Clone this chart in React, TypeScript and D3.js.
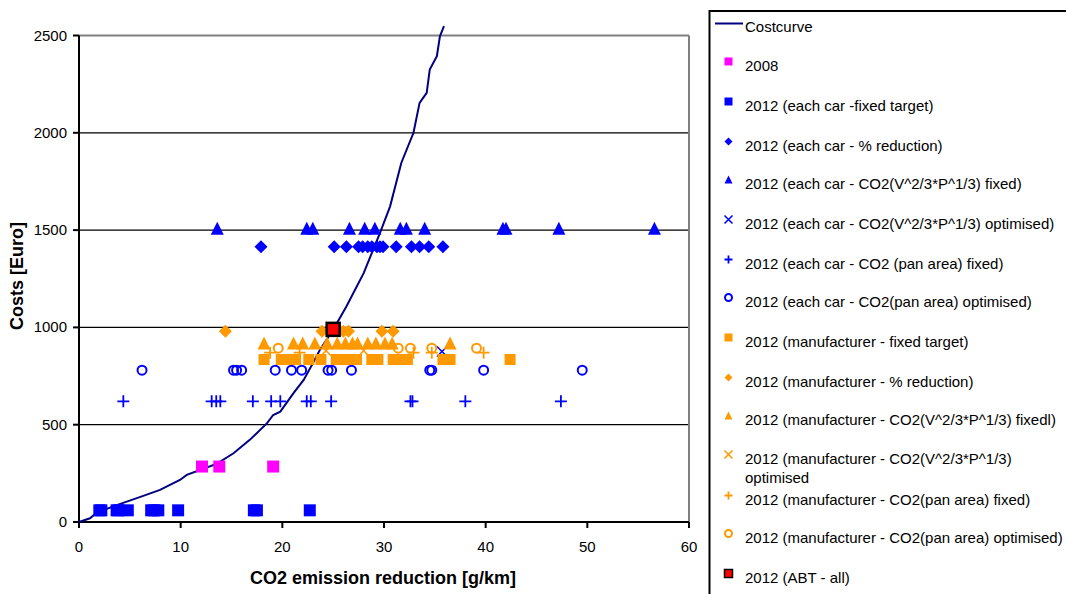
import * as d3 from "d3";

// cost curve (g/km reduction vs. Euro)
const costX = [0, 1.08, 1.74, 3.71, 6.32, 7.97, 9.93, 10.6, 13.5, 15.2, 16.8, 18.5, 19.1, 19.8, 21.1, 22.1, 23.0, 23.7, 25.0, 26.3, 28.0, 28.8, 29.6, 30.6, 31.7, 32.9, 33.5, 34.2, 34.5, 35.2, 35.5, 35.9];
const costY = [0, 19, 48, 87, 134, 165, 216, 242, 298, 353, 422, 508, 550, 567, 662, 730, 816, 885, 988, 1107, 1279, 1382, 1485, 1622, 1845, 2000, 2154, 2205, 2325, 2394, 2496, 2548];

type P = [number, number];

const pts2008: P[] = [[12.1, 285], [13.8, 285], [19.1, 285]];
const ptsCarFixed: P[] = [[2.0, 60], [2.2, 60], [3.7, 60], [3.9, 60], [4.8, 60], [7.1, 60], [7.4, 60], [7.8, 60], [9.75, 60], [17.2, 60], [17.5, 60], [22.7, 60]];
const ptsCarPct: P[] = [[17.9, 1415], [25.1, 1415], [26.3, 1415], [27.5, 1415], [27.9, 1415], [28.4, 1415], [28.8, 1415], [29.3, 1415], [29.6, 1415], [29.9, 1415], [31.2, 1415], [32.7, 1415], [33.5, 1415], [34.4, 1415], [35.8, 1415]];
const ptsCarVFixed: P[] = [[13.6, 1510], [22.4, 1510], [23.0, 1510], [26.6, 1510], [28.1, 1510], [29.1, 1510], [31.6, 1510], [32.2, 1510], [34.0, 1510], [41.7, 1510], [42.0, 1510], [47.2, 1510], [56.6, 1510]];
const ptsCarVOpt: P[] = [[35.7, 876]];
const ptsCarPanFixed: P[] = [[4.36, 620], [13.05, 620], [13.5, 620], [13.9, 620], [17.1, 620], [18.9, 620], [19.8, 620], [22.4, 620], [22.8, 620], [24.8, 620], [32.6, 620], [32.8, 620], [38.0, 620], [47.4, 620]];
const ptsCarPanOpt: P[] = [[6.2, 780], [15.2, 780], [15.5, 780], [16.0, 780], [19.3, 780], [20.9, 780], [21.9, 780], [24.5, 780], [24.85, 780], [26.8, 780], [34.5, 780], [34.7, 780], [39.8, 780], [49.5, 780]];
const ptsManFixed: P[] = [[18.2, 835], [19.9, 835], [20.8, 835], [21.3, 835], [22.6, 835], [23.8, 835], [25.3, 835], [25.9, 835], [26.6, 835], [27.3, 835], [28.8, 835], [29.4, 835], [30.9, 835], [31.3, 835], [32.3, 835], [35.8, 835], [36.5, 835], [42.4, 835]];
const ptsManPct: P[] = [[14.4, 980], [23.9, 980], [26.0, 980], [26.5, 980], [29.8, 980], [30.9, 980]];
const ptsManVFixed: P[] = [[18.2, 920], [21.1, 920], [22.0, 920], [23.2, 920], [24.4, 920], [25.4, 920], [26.2, 920], [26.9, 920], [27.4, 920], [28.4, 920], [29.2, 920], [30.1, 920], [30.8, 920], [36.5, 920]];
const ptsManVOpt: P[] = [[24.3, 880], [28.0, 880]];
const ptsManPanFixed: P[] = [[18.8, 870], [21.7, 870], [32.9, 870], [34.7, 870], [39.8, 870]];
const ptsManPanOpt: P[] = [[19.6, 893], [31.4, 893], [32.6, 893], [34.7, 893], [39.1, 893]];
const ptsABT: P[] = [[25.0, 990]];

const xTicks = [0, 10, 20, 30, 40, 50, 60];
const yTicks = [0, 500, 1000, 1500, 2000, 2500];

type Kind = "square" | "diamond" | "triangle" | "x" | "plus" | "circle" | "abt";

const series: { label: string[]; kind: Kind; color: string; pts: P[]; size: number }[] = [
  { label: ["2008"], kind: "square", color: "#FF00FF", pts: pts2008, size: 12 },
  { label: ["2012 (each car -fixed target)"], kind: "square", color: "#0000FF", pts: ptsCarFixed, size: 12 },
  { label: ["2012 (each car - % reduction)"], kind: "diamond", color: "#0000FF", pts: ptsCarPct, size: 13 },
  { label: ["2012 (each car - CO2(V^2/3*P^1/3) fixed)"], kind: "triangle", color: "#0000FF", pts: ptsCarVFixed, size: 13 },
  { label: ["2012 (each car - CO2(V^2/3*P^1/3) optimised)"], kind: "x", color: "#0000FF", pts: ptsCarVOpt, size: 10 },
  { label: ["2012 (each car - CO2 (pan area) fixed)"], kind: "plus", color: "#0000FF", pts: ptsCarPanFixed, size: 12 },
  { label: ["2012 (each car - CO2(pan area) optimised)"], kind: "circle", color: "#0000FF", pts: ptsCarPanOpt, size: 9 },
  { label: ["2012 (manufacturer - fixed target)"], kind: "square", color: "#FF9900", pts: ptsManFixed, size: 11 },
  { label: ["2012 (manufacturer - % reduction)"], kind: "diamond", color: "#FF9900", pts: ptsManPct, size: 13 },
  { label: ["2012 (manufacturer - CO2(V^2/3*P^1/3) fixedl)"], kind: "triangle", color: "#FF9900", pts: ptsManVFixed, size: 13 },
  { label: ["2012 (manufacturer - CO2(V^2/3*P^1/3)", "optimised"], kind: "x", color: "#FF9900", pts: ptsManVOpt, size: 10 },
  { label: ["2012 (manufacturer - CO2(pan area) fixed)"], kind: "plus", color: "#FF9900", pts: ptsManPanFixed, size: 12 },
  { label: ["2012 (manufacturer - CO2(pan area) optimised)"], kind: "circle", color: "#FF9900", pts: ptsManPanOpt, size: 9 },
  { label: ["2012 (ABT - all)"], kind: "abt", color: "#FF0000", pts: ptsABT, size: 13 },
];

const legendRows = [65, 105, 145, 183, 223, 263, 301, 341, 381, 419, 458, 499, 537, 577];

function Marker({ kind, cx, cy, s, color }: { kind: Kind; cx: number; cy: number; s: number; color: string }) {
  const h = s / 2;
  switch (kind) {
    case "square":
      return <rect x={cx - h} y={cy - h} width={s} height={s} fill={color} />;
    case "abt":
      return <rect x={cx - h} y={cy - h} width={s} height={s} fill={color} stroke="#000" strokeWidth={s > 8 ? 2.5 : 1.5} />;
    case "diamond":
      return <path d={`M${cx},${cy - h}L${cx + h},${cy}L${cx},${cy + h}L${cx - h},${cy}Z`} fill={color} />;
    case "triangle":
      return <path d={`M${cx},${cy - h}L${cx + h},${cy + h}L${cx - h},${cy + h}Z`} fill={color} />;
    case "x":
      return <path d={`M${cx - h},${cy - h}L${cx + h},${cy + h}M${cx + h},${cy - h}L${cx - h},${cy + h}`} stroke={color} strokeWidth={1.6} fill="none" />;
    case "plus":
      return <path d={`M${cx - h},${cy}L${cx + h},${cy}M${cx},${cy - h}L${cx},${cy + h}`} stroke={color} strokeWidth={1.8} fill="none" />;
    case "circle":
      return <circle cx={cx} cy={cy} r={h} stroke={color} strokeWidth={2} fill="none" />;
  }
}

export default function App() {
  const x = d3.scaleLinear().domain([0, 60]).range([79, 689]);
  const y = d3.scaleLinear().domain([0, 2500]).range([522, 35.5]);
  const line = d3.line<number>().x((_, i) => x(costX[i])).y((d) => y(d));
  const font = "'Liberation Sans', Arial, sans-serif";

  return (
    <svg width={1066} height={594} style={{ position: "absolute", left: 0, top: 0, background: "#fff" }} fontFamily={font}>
      {/* grid */}
      {yTicks.filter((t) => t > 0 && t < 2500).map((t) => (
        <line key={t} x1={x(0)} x2={x(60)} y1={y(t)} y2={y(t)} stroke="#000" strokeWidth={1.2} />
      ))}
      {/* frame */}
      <line x1={x(0)} x2={x(60)} y1={y(2500)} y2={y(2500)} stroke="#808080" strokeWidth={2} />
      <line x1={x(60)} x2={x(60)} y1={y(2500)} y2={y(0)} stroke="#808080" strokeWidth={2} />
      <line x1={x(0)} x2={x(60)} y1={y(0)} y2={y(0)} stroke="#000" strokeWidth={2} />
      <line x1={x(0)} x2={x(0)} y1={y(2500)} y2={y(0)} stroke="#000" strokeWidth={2} />
      {yTicks.map((t) => (
        <g key={t}>
          <line x1={x(0) - 6} x2={x(0)} y1={y(t)} y2={y(t)} stroke="#000" strokeWidth={2} />
          <text x={67} y={y(t) + 5} fontSize={15} textAnchor="end">{t}</text>
        </g>
      ))}
      {xTicks.map((t) => (
        <g key={t}>
          <line x1={x(t)} x2={x(t)} y1={y(0)} y2={y(0) + 6} stroke="#000" strokeWidth={2} />
          <text x={x(t)} y={552} fontSize={15} textAnchor="middle">{t}</text>
        </g>
      ))}
      <text x={383} y={584} fontSize={18} fontWeight="bold" textAnchor="middle">CO2 emission reduction [g/km]</text>
      <text transform="translate(23,276) rotate(-90)" fontSize={18} fontWeight="bold" textAnchor="middle">Costs [Euro]</text>

      {/* cost curve */}
      <path d={line(costY) ?? ""} fill="none" stroke="#000080" strokeWidth={2} />

      {/* scatter series */}
      {series.map((s, si) => (
        <g key={si}>
          {s.pts.map((p, i) => (
            <Marker key={i} kind={s.kind} cx={x(p[0])} cy={y(p[1])} s={s.size} color={s.color} />
          ))}
        </g>
      ))}

      {/* legend */}
      <rect x={709.5} y={11} width={400} height={600} fill="#fff" stroke="#000" strokeWidth={2} />
      <line x1={715} x2={743} y1={23.5} y2={23.5} stroke="#000080" strokeWidth={2} />
      <text x={745} y={32} fontSize={15}>Costcurve</text>
      {series.map((s, si) => {
        const ry = legendRows[si];
        return (
          <g key={si}>
            <Marker kind={s.kind} cx={728.5} cy={ry - 3.5} s={s.kind === "circle" ? 7 : 8} color={s.color} />
            {s.label.map((l, li) => (
              <text key={li} x={745} y={ry + 5.5 + li * 19} fontSize={15}>{l}</text>
            ))}
          </g>
        );
      })}
    </svg>
  );
}
